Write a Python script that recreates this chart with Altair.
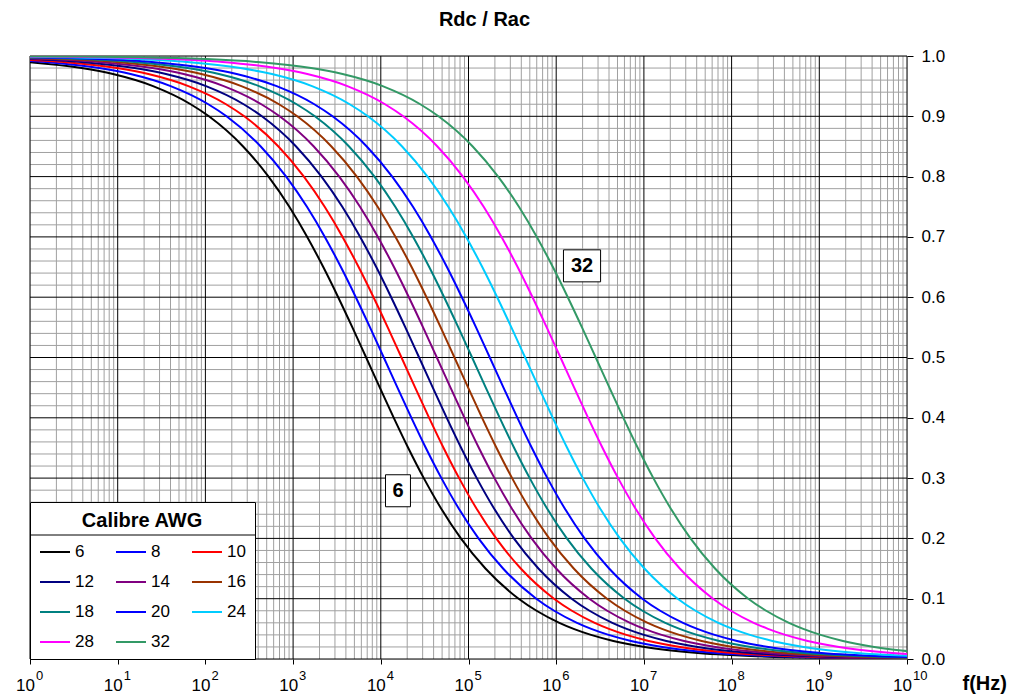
import altair as alt
import pandas as pd

# ---------------- data ----------------
AWG = ["6", "8", "10", "12", "14", "16", "18", "20", "24", "28", "32"]
COLORS = ["#000000", "#0000FF", "#FF0000", "#000080", "#800080", "#993300",
          "#008080", "#0000FF", "#00CCFF", "#FF00FF", "#339966"]

# Rdc/Rac levels at which each curve's crossing frequency (log10 f) was read
LEVELS = [0.9995, 0.999, 0.998, 0.995, 0.99, 0.98, 0.97, 0.95, 0.92, 0.9, 0.85, 0.8,
          0.75, 0.7, 0.65, 0.6, 0.55, 0.5, 0.45, 0.4, 0.35, 0.3, 0.25, 0.2, 0.15, 0.1,
          0.08, 0.06, 0.05, 0.04, 0.03, 0.02, 0.015, 0.01, 0.007, 0.005, 0.003, 0.002,
          0.001, 0.0005]

E6 = [-2.630, -2.028, -1.426, -0.627, -0.022, 0.587, 0.946, 1.403, 1.832, 2.040, 2.430, 2.720,
      2.957, 3.161, 3.344, 3.514, 3.676, 3.833, 3.989, 4.148, 4.313, 4.490, 4.686, 4.913, 5.193,
      5.572, 5.776, 6.036, 6.199, 6.397, 6.652, 7.009, 7.261, 7.615, 7.926, 8.219, 8.664, 9.016,
      9.619, 10.221]
E8 = [-2.429, -1.827, -1.225, -0.426, 0.179, 0.788, 1.147, 1.604, 2.033, 2.241, 2.631, 2.921,
      3.158, 3.362, 3.545, 3.715, 3.877, 4.034, 4.190, 4.349, 4.514, 4.691, 4.887, 5.114, 5.394,
      5.773, 5.977, 6.237, 6.400, 6.598, 6.853, 7.210, 7.462, 7.816, 8.127, 8.420, 8.865, 9.217,
      9.820, 10.422]
E10 = [-2.227, -1.625, -1.023, -0.224, 0.381, 0.990, 1.349, 1.806, 2.235, 2.443, 2.833, 3.123,
       3.360, 3.564, 3.747, 3.917, 4.079, 4.236, 4.392, 4.551, 4.716, 4.893, 5.089, 5.316, 5.596,
       5.975, 6.179, 6.439, 6.602, 6.800, 7.055, 7.412, 7.664, 8.018, 8.329, 8.622, 9.067, 9.419,
       10.022, 10.624]
E12 = [-2.026, -1.424, -0.822, -0.023, 0.582, 1.191, 1.550, 2.007, 2.436, 2.644, 3.034, 3.324,
       3.561, 3.765, 3.948, 4.118, 4.280, 4.437, 4.593, 4.752, 4.917, 5.094, 5.290, 5.517, 5.797,
       6.176, 6.380, 6.640, 6.803, 7.001, 7.256, 7.613, 7.865, 8.219, 8.530, 8.823, 9.268, 9.620,
       10.223, 10.825]
E14 = [-1.824, -1.222, -0.620, 0.179, 0.784, 1.393, 1.752, 2.209, 2.638, 2.846, 3.236, 3.526,
       3.763, 3.967, 4.150, 4.320, 4.482, 4.639, 4.795, 4.954, 5.119, 5.296, 5.492, 5.719, 5.999,
       6.378, 6.582, 6.842, 7.005, 7.203, 7.458, 7.815, 8.067, 8.421, 8.732, 9.025, 9.470, 9.822,
       10.425, 11.027]
E16 = [-1.623, -1.021, -0.419, 0.380, 0.985, 1.594, 1.953, 2.410, 2.839, 3.047, 3.437, 3.727,
       3.964, 4.168, 4.351, 4.521, 4.683, 4.840, 4.996, 5.155, 5.320, 5.497, 5.693, 5.920, 6.200,
       6.579, 6.783, 7.043, 7.206, 7.404, 7.659, 8.016, 8.268, 8.622, 8.933, 9.226, 9.671, 10.023,
       10.626, 11.228]
E18 = [-1.422, -0.820, -0.218, 0.581, 1.186, 1.795, 2.154, 2.611, 3.040, 3.248, 3.638, 3.928,
       4.165, 4.369, 4.552, 4.722, 4.884, 5.041, 5.197, 5.356, 5.521, 5.698, 5.894, 6.121, 6.401,
       6.780, 6.984, 7.244, 7.407, 7.605, 7.860, 8.217, 8.469, 8.823, 9.134, 9.427, 9.872, 10.224,
       10.827, 11.429]
E20 = [-1.220, -0.618, -0.016, 0.783, 1.388, 1.997, 2.356, 2.813, 3.242, 3.450, 3.840, 4.130,
       4.367, 4.571, 4.754, 4.924, 5.086, 5.243, 5.399, 5.558, 5.723, 5.900, 6.096, 6.323, 6.603,
       6.982, 7.186, 7.446, 7.609, 7.807, 8.062, 8.419, 8.671, 9.025, 9.336, 9.629, 10.074, 10.426,
       11.029, 11.631]
E24 = [-0.817, -0.215, 0.387, 1.186, 1.791, 2.400, 2.759, 3.216, 3.645, 3.853, 4.243, 4.533,
       4.770, 4.974, 5.157, 5.327, 5.489, 5.646, 5.802, 5.961, 6.126, 6.303, 6.499, 6.726, 7.006,
       7.385, 7.589, 7.849, 8.012, 8.210, 8.465, 8.822, 9.074, 9.428, 9.739, 10.032, 10.477, 10.829,
       11.432, 12.034]
E28 = [-0.414, 0.188, 0.790, 1.589, 2.194, 2.803, 3.162, 3.619, 4.048, 4.256, 4.646, 4.936,
       5.173, 5.377, 5.560, 5.730, 5.892, 6.049, 6.205, 6.364, 6.529, 6.706, 6.902, 7.129, 7.409,
       7.788, 7.992, 8.252, 8.415, 8.613, 8.868, 9.225, 9.477, 9.831, 10.142, 10.435, 10.880, 11.232,
       11.835, 12.437]
E32 = [-0.012, 0.590, 1.192, 1.991, 2.596, 3.205, 3.564, 4.021, 4.450, 4.658, 5.048, 5.338,
       5.575, 5.779, 5.962, 6.132, 6.294, 6.451, 6.607, 6.766, 6.931, 7.108, 7.304, 7.531, 7.811,
       8.190, 8.394, 8.654, 8.817, 9.015, 9.270, 9.627, 9.879, 10.233, 10.544, 10.837, 11.282,
       11.634, 12.237, 12.839]

CROSSINGS = [E6, E8, E10, E12, E14, E16, E18, E20, E24, E28, E32]

DECADES = list(range(0, 11))
MINOR_MULT = [2, 3, 4, 5, 6, 7, 8, 9]
RATIO_TICKS = [0.0, 0.1, 0.2, 0.3, 0.4, 0.5, 0.6, 0.7, 0.8, 0.9, 1.0]
RATIO_MINOR_STEP = 0.02

NOTE_TEXT = ["32", "6"]
NOTE_F = [1.97e6, 1.57e4]
NOTE_RATIO = [0.652, 0.279]

# ---------------- tables ----------------
rows = []
for awg, exps in zip(AWG, CROSSINGS):
    for lv, e in zip(LEVELS, exps):
        rows.append({"awg": awg, "f": 10.0 ** e, "ratio": lv})
curves = pd.DataFrame(rows)

major_f = pd.DataFrame({"f": [10.0 ** d for d in DECADES]})
minor_f = pd.DataFrame({"f": [m * 10.0 ** d for d in DECADES[:-1] for m in MINOR_MULT]})
major_r = pd.DataFrame({"r": RATIO_TICKS})
minor_r = pd.DataFrame({"r": [round(i * RATIO_MINOR_STEP, 2) for i in range(1, 50) if i % 5 != 0]})
xlab = pd.DataFrame({"f": [10.0 ** d for d in DECADES],
                     "base": ["10"] * len(DECADES),
                     "sup": [str(d) for d in DECADES]})
notes = pd.DataFrame({"label": NOTE_TEXT, "f": NOTE_F, "ratio": NOTE_RATIO})

FONT = "Liberation Sans"
W, H = 877, 603
xs = alt.Scale(type="log", domain=[1, 1e10], nice=False)
ys = alt.Scale(domain=[0, 1], nice=False, zero=False)

GRAY = "#a0a0a0"

minor_v = alt.Chart(minor_f).mark_rule(color=GRAY, strokeWidth=1).encode(
    x=alt.X("f:Q", scale=xs, axis=None))
minor_h = alt.Chart(minor_r).mark_rule(color=GRAY, strokeWidth=1).encode(
    y=alt.Y("r:Q", scale=ys, axis=None))
major_v = alt.Chart(major_f).mark_rule(color="#000000", strokeWidth=1).encode(
    x=alt.X("f:Q", scale=xs, axis=None))
major_h = alt.Chart(major_r).mark_rule(color="#000000", strokeWidth=1).encode(
    y=alt.Y("r:Q", scale=ys, axis=None))

x_axis = alt.Axis(values=[10.0 ** d for d in DECADES], labels=False, ticks=True, tickSize=5,
                  tickColor="black", domain=False, grid=False, title="f(Hz)",
                  titleX=932, titleY=24, titleAlign="left", titleBaseline="middle",
                  titleAngle=0, titleFontSize=20, titleFontWeight="bold", titleFont=FONT,
                  titleColor="black")
y_axis = alt.Axis(orient="right", values=RATIO_TICKS, format=".1f", grid=False, domain=False,
                  ticks=True, tickSize=6, tickColor="black", labelFontSize=17, labelFont=FONT,
                  labelColor="black", labelPadding=8, title=None)

legend = alt.Legend(title="Calibre AWG", orient="none", legendX=0, legendY=446, columns=3,
                    direction="horizontal",
                    symbolType="stroke", symbolSize=900, symbolStrokeWidth=2,
                    labelFontSize=17, labelFont=FONT, labelColor="black", labelOffset=4,
                    titleFontSize=20, titleFontWeight="bold", titleFont=FONT, titleColor="black",
                    titleAnchor="middle", titlePadding=5, padding=9, rowPadding=6,
                    columnPadding=18, strokeColor="black", gridAlign="all", titleLimit=300)

lines = alt.Chart(curves).mark_line(strokeWidth=2, interpolate="monotone", clip=True).encode(
    x=alt.X("f:Q", scale=xs, axis=x_axis),
    y=alt.Y("ratio:Q", scale=ys, axis=y_axis),
    color=alt.Color("awg:N", scale=alt.Scale(domain=AWG, range=COLORS), sort=AWG, legend=legend),
)

one = alt.Data(values=[{"k": 1}])
legend_bg = alt.Chart(one).mark_rect(fill="white", stroke=None).encode(
    x=alt.value(0), x2=alt.value(226), y=alt.value(446), y2=alt.value(H))
legend_sep = alt.Chart(one).mark_rule(color="black", strokeWidth=1).encode(
    x=alt.value(0), x2=alt.value(226), y=alt.value(479))

BOX32 = "M-1.16,-1L1.16,-1L1.16,1L-1.16,1Z"
BOX6 = "M-0.78,-1L0.78,-1L0.78,1L-0.78,1Z"
note_box = alt.Chart(notes).mark_point(filled=True, fill="white", stroke="black", strokeWidth=1,
                                       size=1024, opacity=1, fillOpacity=1).encode(
    x=alt.X("f:Q", scale=xs, axis=None),
    y=alt.Y("ratio:Q", scale=ys, axis=None),
    shape=alt.Shape("label:N", scale=alt.Scale(domain=NOTE_TEXT, range=[BOX32, BOX6]), legend=None),
)
note_txt = alt.Chart(notes).mark_text(fontSize=20, fontWeight="bold", font=FONT, color="black",
                                      baseline="middle", align="center").encode(
    x=alt.X("f:Q", scale=xs, axis=None),
    y=alt.Y("ratio:Q", scale=ys, axis=None),
    text="label:N",
)

xbase = alt.Chart(xlab).mark_text(align="right", baseline="alphabetic", dx=5, fontSize=17,
                                  font=FONT, color="black").encode(
    x=alt.X("f:Q", scale=xs, axis=None), y=alt.value(635), text="base:N")
xsup = alt.Chart(xlab).mark_text(align="left", baseline="alphabetic", dx=6, fontSize=13,
                                 font=FONT, color="black").encode(
    x=alt.X("f:Q", scale=xs, axis=None), y=alt.value(624), text="sup:N")

chart = alt.layer(
    minor_v, minor_h, major_v, major_h, lines, legend_bg, legend_sep, note_box, note_txt, xbase, xsup
).resolve_axis(
    x="independent", y="independent"
).properties(
    width=W, height=H,
    title=alt.TitleParams("Rdc / Rac", fontSize=20, fontWeight="bold", font=FONT, color="black",
                          anchor="middle", dx=16, offset=17),
    autosize=alt.AutoSizeParams(type="none"),
    padding={"left": 30, "top": 56, "right": 107, "bottom": 40},
).configure_view(stroke=None).configure(font=FONT, background="white")

chart.save("out.html", embed_options={"renderer": "svg", "actions": False})
